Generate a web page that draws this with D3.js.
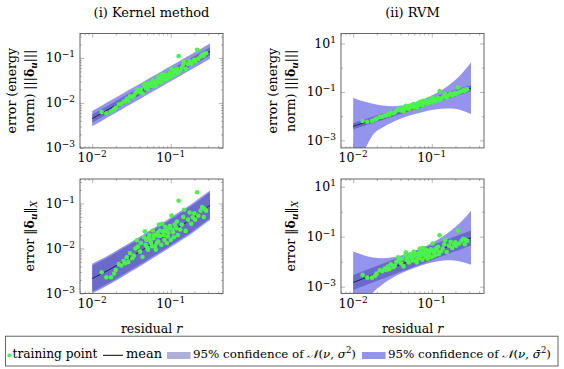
<!DOCTYPE html>
<html>
<head>
<meta charset="utf-8">
<script src="https://cdn.jsdelivr.net/npm/d3@7"></script>
<style>
  body { margin: 0; background: #fff; }
  svg text { font-family: "DejaVu Serif", serif; fill: #000; }
</style>
</head>
<body>
<svg id="chart" width="564" height="369"></svg>
<script>
const WIDTH = 564;
const HEIGHT = 369;

// training points: residual r, energy-norm error, X-norm error
const residual = [
  0.01318, 0.01514, 0.01738, 0.01905, 0.01995, 0.02188, 0.02344, 0.02512, 0.02630, 0.02754,
  0.02884, 0.03020, 0.03236, 0.03388, 0.03548, 0.03715, 0.03802, 0.04074, 0.04169, 0.04365,
  0.04571, 0.04677, 0.04786, 0.04898, 0.05012, 0.05129, 0.05248, 0.05370, 0.05495, 0.05623,
  0.05754, 0.05888, 0.06026, 0.06166, 0.06310, 0.06457, 0.06607, 0.06761, 0.06918, 0.06918,
  0.07079, 0.07244, 0.07413, 0.07586, 0.07762, 0.07943, 0.08128, 0.08318, 0.08511, 0.08710,
  0.08913, 0.09120, 0.09333, 0.09550, 0.09772, 0.1000, 0.1023, 0.1047, 0.1072, 0.1096,
  0.1122, 0.1175, 0.1202, 0.1230, 0.1259, 0.1318, 0.1380, 0.1445, 0.1479, 0.1549,
  0.1660, 0.1738, 0.1820, 0.1905, 0.1995, 0.2042, 0.2163, 0.2239, 0.2399, 0.2512,
  0.2630, 0.2692, 0.2818
];
const errEnergy = [
  0.00631, 0.00589, 0.00646, 0.00724, 0.00794, 0.00933, 0.00955, 0.01072, 0.01072, 0.01230,
  0.01148, 0.01413, 0.01318, 0.01445, 0.01660, 0.01995, 0.01820, 0.01738, 0.02042, 0.01622,
  0.02399, 0.02692, 0.02138, 0.02399, 0.02138, 0.02042, 0.02570, 0.02754, 0.02455, 0.02455,
  0.02344, 0.03162, 0.02818, 0.03020, 0.02455, 0.02399, 0.02754, 0.03311, 0.02884, 0.03162,
  0.03890, 0.03631, 0.03311, 0.02884, 0.04266, 0.03715, 0.03548, 0.03311, 0.04266, 0.03981,
  0.03311, 0.03715, 0.04074, 0.04467, 0.04677, 0.03715, 0.05754, 0.04571, 0.04467, 0.04169,
  0.05248, 0.05012, 0.05754, 0.04571, 0.1096, 0.05248, 0.06026, 0.07079, 0.08128, 0.05754,
  0.07244, 0.08511, 0.07244, 0.08318, 0.09120, 0.08318, 0.1514, 0.09550, 0.1072, 0.1175,
  0.1122, 0.1259, 0.1288
];
const errX = [
  0.002951, 0.002291, 0.002291, 0.002754, 0.003311, 0.004467, 0.004169, 0.005248, 0.004677, 0.006310,
  0.005012, 0.007943, 0.006026, 0.006918, 0.01000, 0.01514, 0.01096, 0.008511, 0.01318, 0.006457,
  0.01778, 0.02399, 0.01202, 0.01549, 0.01047, 0.009333, 0.01738, 0.01995, 0.01479, 0.01318,
  0.01122, 0.02512, 0.01698, 0.01995, 0.01096, 0.009333, 0.01318, 0.02188, 0.01445, 0.01905,
  0.03388, 0.02512, 0.01862, 0.01202, 0.03548, 0.02399, 0.01995, 0.01549, 0.03020, 0.02455,
  0.01318, 0.01862, 0.02239, 0.02818, 0.03162, 0.01549, 0.05370, 0.02630, 0.02291, 0.01778,
  0.03388, 0.02818, 0.03981, 0.01995, 0.1148, 0.02630, 0.03388, 0.05012, 0.07244, 0.02455,
  0.04365, 0.06310, 0.03548, 0.04898, 0.06026, 0.04365, 0.1778, 0.05370, 0.06918, 0.08318,
  0.05012, 0.07586, 0.06918
];

// residuals where mean and bands are sampled
const bandR = [0.01, 0.01334, 0.01778, 0.02371, 0.03162, 0.04217, 0.05623, 0.07499, 0.1, 0.1334, 0.1778, 0.2371, 0.3162];

// mean predictions
const kernelEnergyMean = [0.004467, 0.005957, 0.007943, 0.01059, 0.01413, 0.01884, 0.02512, 0.0335, 0.04467, 0.05957, 0.07943, 0.1059, 0.1413];
const kernelXMean = [0.002138, 0.002754, 0.003631, 0.004898, 0.006607, 0.008913, 0.01230, 0.01660, 0.02291, 0.03162, 0.04365, 0.06310, 0.09120];
const rvmEnergyMean = [0.003802, 0.005152, 0.006966, 0.009441, 0.01276, 0.01730, 0.02344, 0.03170, 0.04295, 0.05808, 0.07870, 0.1067, 0.1445];
const rvmXMean = [0.001479, 0.002080, 0.002931, 0.004121, 0.005794, 0.008166, 0.01148, 0.01618, 0.02275, 0.03199, 0.04508, 0.06339, 0.08913];

// band half widths in decades: sigma band, and sigma-bar band (upper / lower)
const kernelEnergySigma = [0.09, 0.09, 0.09, 0.09, 0.09, 0.09, 0.09, 0.09, 0.09, 0.09, 0.09, 0.09, 0.09];
const kernelEnergyBarUp = [0.17, 0.17, 0.17, 0.17, 0.17, 0.17, 0.17, 0.17, 0.17, 0.17, 0.17, 0.17, 0.17];
const kernelEnergyBarLo = [0.17, 0.17, 0.17, 0.17, 0.17, 0.17, 0.17, 0.17, 0.17, 0.17, 0.17, 0.17, 0.17];
const kernelXSigma = [0.29, 0.29, 0.29, 0.29, 0.29, 0.29, 0.29, 0.29, 0.29, 0.29, 0.29, 0.29, 0.29];
const kernelXBarUp = [0.33, 0.33, 0.33, 0.33, 0.33, 0.33, 0.33, 0.33, 0.33, 0.33, 0.33, 0.33, 0.33];
const kernelXBarLo = [0.33, 0.33, 0.33, 0.33, 0.33, 0.33, 0.33, 0.33, 0.33, 0.33, 0.33, 0.33, 0.33];
const rvmEnergySigma = [0.13, 0.13, 0.13, 0.13, 0.13, 0.13, 0.13, 0.13, 0.13, 0.13, 0.13, 0.13, 0.13];
const rvmEnergyBarUp = [1.18, 0.90, 0.67, 0.46, 0.30, 0.20, 0.17, 0.18, 0.22, 0.30, 0.46, 0.70, 1.06];
const rvmEnergyBarLo = [2.5, 1.3, 0.62, 0.44, 0.36, 0.31, 0.31, 0.34, 0.38, 0.46, 0.58, 0.78, 1.07];
const rvmXSigma = [0.30, 0.30, 0.30, 0.30, 0.30, 0.30, 0.30, 0.30, 0.30, 0.30, 0.30, 0.30, 0.30];
const rvmXBarUp = [1.24, 0.95, 0.70, 0.52, 0.41, 0.36, 0.34, 0.35, 0.39, 0.47, 0.60, 0.80, 1.09];
const rvmXBarLo = [1.9, 1.15, 0.72, 0.52, 0.41, 0.36, 0.34, 0.35, 0.39, 0.47, 0.60, 0.80, 1.07];

const titles = ["(i) Kernel method", "(ii) RVM"];

var colors = { point: "#4cf24c", mean: "#16164e", sigma: "rgb(30,30,140)", sigmaBar: "rgb(60,60,220)", frame: "#555", tick: "#858585" };

var svg = d3.select("#chart");

const PW = 143, PH = 114.4;
var panels = [
  { x0: 80, y0: 33.5, ydom: [1e-3, Math.pow(10, -0.456)], decStep: 1, err: errEnergy, mean: kernelEnergyMean, sig: kernelEnergySigma, up: kernelEnergyBarUp, lo: kernelEnergyBarLo },
  { x0: 341, y0: 33.5, ydom: [Math.pow(10, -3.31), Math.pow(10, 1.41)], decStep: 2, err: errEnergy, mean: rvmEnergyMean, sig: rvmEnergySigma, up: rvmEnergyBarUp, lo: rvmEnergyBarLo },
  { x0: 80, y0: 179, ydom: [1e-3, Math.pow(10, -0.456)], decStep: 1, err: errX, mean: kernelXMean, sig: kernelXSigma, up: kernelXBarUp, lo: kernelXBarLo },
  { x0: 341, y0: 179, ydom: [Math.pow(10, -3.27), Math.pow(10, 1.31)], decStep: 2, err: errX, mean: rvmXMean, sig: rvmXSigma, up: rvmXBarUp, lo: rvmXBarLo }
];

function logTicks(dom, step) {
  var lo = Math.floor(Math.log10(dom[0])), hi = Math.ceil(Math.log10(dom[1]));
  var major = [], minor = [];
  for (var d = lo; d <= hi; d++) {
    var v = Math.pow(10, d);
    if (v >= dom[0] && v <= dom[1]) {
      if (((d % step) + step) % step === 1 % step) major.push(v); else minor.push(v);
    }
    if (step === 1) {
      for (var k = 2; k <= 9; k++) {
        var m = k * v;
        if (m >= dom[0] && m <= dom[1]) minor.push(m);
      }
    }
  }
  return { major: major, minor: minor };
}

function tickSide(g, axisFn, scale, values, size) {
  g.call(axisFn(scale).tickValues(values).tickSize(size).tickFormat(""))
    .call(s => s.select(".domain").remove())
    .selectAll("line").attr("stroke", colors.tick).attr("stroke-width", 0.6);
}

function powText(sel, exp) {
  sel.append("tspan").text("10");
  sel.append("tspan").attr("dy", -5).attr("font-size", 9).text(exp < 0 ? "\u2212" + (-exp) : exp);
}

var xdom = [Math.pow(10, -2.155), Math.pow(10, -0.335)];

panels.forEach((p, pi) => {
  var x = d3.scaleLog().domain(xdom).range([p.x0, p.x0 + PW]);
  var y = d3.scaleLog().domain(p.ydom).range([p.y0 + PH, p.y0]);
  var g = svg.append("g");

  var clipId = "clip" + pi;
  svg.append("clipPath").attr("id", clipId)
    .append("rect").attr("x", p.x0).attr("y", p.y0).attr("width", PW).attr("height", PH);

  var plot = g.append("g").attr("clip-path", "url(#" + clipId + ")");

  var barArea = d3.area()
    .x((d, i) => x(bandR[i]))
    .y0((d, i) => y(p.mean[i] / Math.pow(10, p.lo[i])))
    .y1((d, i) => y(p.mean[i] * Math.pow(10, p.up[i])))
    .curve(d3.curveMonotoneX);
  var sigArea = d3.area()
    .x((d, i) => x(bandR[i]))
    .y0((d, i) => y(p.mean[i] / Math.pow(10, p.sig[i])))
    .y1((d, i) => y(p.mean[i] * Math.pow(10, p.sig[i])))
    .curve(d3.curveMonotoneX);

  plot.append("path").datum(bandR).attr("d", barArea)
    .attr("fill", colors.sigmaBar).attr("fill-opacity", 0.55);
  plot.append("path").datum(bandR).attr("d", sigArea)
    .attr("fill", colors.sigma).attr("fill-opacity", 0.35);

  var line = d3.line().x((d, i) => x(bandR[i])).y((d, i) => y(p.mean[i]));
  plot.append("path").datum(bandR).attr("d", line)
    .attr("fill", "none").attr("stroke", colors.mean).attr("stroke-width", 0.9);

  plot.selectAll("circle").data(residual).join("circle")
    .attr("cx", d => x(d))
    .attr("cy", (d, i) => y(p.err[i]))
    .attr("r", 2.3)
    .attr("fill", colors.point);

  // ticks on all four sides, pointing inwards
  var xt = logTicks(xdom, 1);
  var yt = logTicks(p.ydom, p.decStep);
  [[xt.minor, -2], [xt.major, -4]].forEach(t => {
    tickSide(g.append("g").attr("transform", "translate(0," + (p.y0 + PH) + ")"), d3.axisBottom, x, t[0], t[1]);
    tickSide(g.append("g").attr("transform", "translate(0," + p.y0 + ")"), d3.axisTop, x, t[0], t[1]);
  });
  [[yt.minor, -2], [yt.major, -4]].forEach(t => {
    tickSide(g.append("g").attr("transform", "translate(" + p.x0 + ",0)"), d3.axisLeft, y, t[0], t[1]);
    tickSide(g.append("g").attr("transform", "translate(" + (p.x0 + PW) + ",0)"), d3.axisRight, y, t[0], t[1]);
  });

  g.append("rect").attr("x", p.x0).attr("y", p.y0).attr("width", PW).attr("height", PH)
    .attr("fill", "none").attr("stroke", colors.frame).attr("stroke-width", 0.9);

  // tick labels
  xt.major.forEach(v => {
    g.append("text").attr("x", x(v)).attr("y", p.y0 + PH + 14.5)
      .attr("text-anchor", "middle").attr("font-size", 12.5)
      .call(powText, Math.round(Math.log10(v)));
  });
  yt.major.forEach(v => {
    g.append("text").attr("x", p.x0 - 5).attr("y", y(v) + 4.5)
      .attr("text-anchor", "end").attr("font-size", 12.5)
      .call(powText, Math.round(Math.log10(v)));
  });
});

// titles and axis labels
[151.5, 412.5].forEach((cx, i) => {
  svg.append("text").attr("x", cx).attr("y", 16.5).attr("text-anchor", "middle")
    .attr("font-size", 13).text(titles[i]);
  svg.append("text").attr("x", cx).attr("y", 332.5).attr("text-anchor", "middle")
    .attr("font-size", 12.5)
    .call(t => {
      t.append("tspan").text("residual ");
      t.append("tspan").attr("font-style", "italic").text("r");
    });
});

function energyLabel(bx, cy) {
  var a = svg.append("text").attr("transform", "translate(" + bx + "," + cy + ") rotate(-90)")
    .attr("text-anchor", "middle").attr("font-size", 12.5).text("error (energy");
  var b = svg.append("text").attr("transform", "translate(" + (bx + 18) + "," + cy + ") rotate(-90)")
    .attr("text-anchor", "middle").attr("font-size", 12.5);
  b.append("tspan").text("norm) |||");
  b.append("tspan").attr("font-weight", "bold").text("\u03b4");
  b.append("tspan").attr("font-weight", "bold").attr("font-style", "italic").attr("font-size", 9).attr("dy", 3).text("u");
  b.append("tspan").attr("dy", -3).text("|||");
}
function xLabel(bx, cy) {
  var b = svg.append("text").attr("transform", "translate(" + bx + "," + cy + ") rotate(-90)")
    .attr("text-anchor", "middle").attr("font-size", 12.5);
  b.append("tspan").text("error \u2016");
  b.append("tspan").attr("font-weight", "bold").text("\u03b4");
  b.append("tspan").attr("font-weight", "bold").attr("font-style", "italic").attr("font-size", 9).attr("dy", 3).text("u");
  b.append("tspan").attr("dy", -3).text("\u2016");
  b.append("tspan").attr("font-style", "italic").attr("font-size", 9).attr("dy", 3).text("X");
}
energyLabel(16, 90.7);
energyLabel(277, 90.7);
xLabel(34, 236.2);
xLabel(295, 236.2);

// legend
var leg = svg.append("g");
leg.append("rect").attr("x", 5.5).attr("y", 336.2).attr("width", 552.5).attr("height", 29.8)
  .attr("fill", "#fff").attr("stroke", colors.frame).attr("stroke-width", 0.9);
leg.append("circle").attr("cx", 9.3).attr("cy", 355.5).attr("r", 2).attr("fill", colors.point);
leg.append("text").attr("x", 12.5).attr("y", 357.5).attr("font-size", 12.5)
  .attr("textLength", 85).attr("lengthAdjust", "spacingAndGlyphs").text("training point");
leg.append("line").attr("x1", 103).attr("x2", 123).attr("y1", 355.3).attr("y2", 355.3)
  .attr("stroke", "#000").attr("stroke-width", 1);
leg.append("text").attr("x", 126).attr("y", 357.5).attr("font-size", 12.5)
  .attr("textLength", 36).attr("lengthAdjust", "spacingAndGlyphs").text("mean");
leg.append("rect").attr("x", 167).attr("y", 352).attr("width", 23.6).attr("height", 7)
  .attr("fill", colors.sigma).attr("fill-opacity", 0.35);
leg.append("rect").attr("x", 362).attr("y", 352).attr("width", 23.6).attr("height", 7)
  .attr("fill", colors.sigmaBar).attr("fill-opacity", 0.55);

function confText(x0, bar) {
  var t = leg.append("text").attr("x", x0).attr("y", 357.5).attr("font-size", 11.8)
    .attr("textLength", 163).attr("lengthAdjust", "spacingAndGlyphs");
  t.append("tspan").text("95% confidence of ");
  t.append("tspan").attr("font-style", "italic").text("\ud835\udca9");
  t.append("tspan").text("(");
  t.append("tspan").attr("font-style", "italic").text("\u03bd");
  t.append("tspan").text(", ");
  t.append("tspan").attr("font-style", "italic").text(bar ? "\u03c3\u0304" : "\u03c3");
  t.append("tspan").attr("font-size", 8.5).attr("dy", -5).text("2");
  t.append("tspan").attr("dy", 5).text(")");
}
confText(193, false);
confText(388, true);
</script>
</body>
</html>
